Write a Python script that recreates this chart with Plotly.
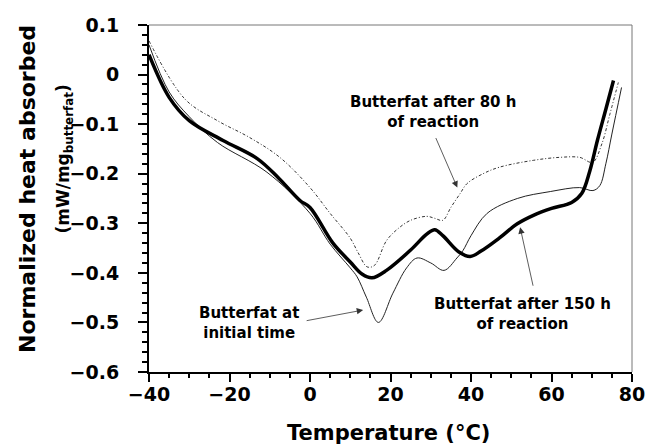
import plotly.graph_objects as go

# DSC traces of butterfat (temperature in deg C, normalized heat in mW/mg butterfat)
T_INITIAL = [-40, -35, -30, -23, -10.7, 0, 5, 10, 11.7, 14, 17, 20.6, 24, 26.6, 30, 33.3,
             36.5, 38, 40, 44, 51.5, 59.7, 67, 70.3, 72, 73.5, 75, 77.4]
Q_INITIAL = [0.06, -0.035, -0.085, -0.137, -0.197, -0.28, -0.342, -0.39, -0.408, -0.449, -0.5,
             -0.441, -0.39, -0.37, -0.38, -0.395, -0.37, -0.355, -0.325, -0.28, -0.25, -0.236,
             -0.228, -0.234, -0.224, -0.18, -0.12, -0.026]

T_80H = [-40, -31, -23, -15, -7.5, 0, 5, 10, 12, 14.2, 16, 19, 22, 25, 29, 31, 33, 35, 37.3,
         39, 43, 47, 55.5, 62, 67, 70.2, 72.5, 74.5, 76.6]
Q_80H = [0.068, -0.05, -0.093, -0.127, -0.167, -0.228, -0.28, -0.33, -0.36, -0.388, -0.385,
         -0.335, -0.31, -0.294, -0.286, -0.29, -0.294, -0.268, -0.24, -0.22, -0.2, -0.187,
         -0.173, -0.167, -0.167, -0.177, -0.14, -0.08, -0.016]

T_150H = [-40, -35, -30, -21.6, -13.2, -8, -2.5, 0, 5.7, 10, 13, 15.4, 19, 25, 29, 31, 33,
          37, 39.8, 42.5, 47, 51.5, 55.5, 60, 65, 67.5, 69.5, 71.4, 73.5, 75.4]
Q_150H = [0.04, -0.046, -0.093, -0.133, -0.169, -0.207, -0.254, -0.268, -0.34, -0.378, -0.403,
          -0.41, -0.395, -0.354, -0.322, -0.313, -0.325, -0.358, -0.367, -0.356, -0.33, -0.301,
          -0.284, -0.27, -0.258, -0.24, -0.195, -0.133, -0.07, -0.012]

TEMP_TICKS = [-40, -20, 0, 20, 40, 60, 80]
HEAT_TICKS = [0.1, 0, -0.1, -0.2, -0.3, -0.4, -0.5, -0.6]

# label text, label position, arrow tail, arrow tip
LABELS = [
    ("Butterfat after 80 h<br>of reaction", 30.6, -0.076, 31.1, -0.125, 36.6, -0.228),
    ("Butterfat at<br>initial time", -15.2, -0.502, -1.2, -0.497, 13.2, -0.475),
    ("Butterfat after 150 h<br>of reaction", 52.7, -0.482, 55.5, -0.429, 52.2, -0.308),
]

FONT = "DejaVu Sans"

fig = go.Figure()
fig.add_trace(go.Scatter(x=T_80H, y=Q_80H, mode="lines", line_shape="spline",
                         line=dict(color="#333", width=1, dash="3px,2px,1px,2px")))
fig.add_trace(go.Scatter(x=T_INITIAL, y=Q_INITIAL, mode="lines", line_shape="spline",
                         line=dict(color="#222", width=1)))
fig.add_trace(go.Scatter(x=T_150H, y=Q_150H, mode="lines", line_shape="spline",
                         line=dict(color="black", width=3.5)))

for text, tx, ty, ax, ay, x, y in LABELS:
    fig.add_annotation(x=tx, y=ty, text=text, showarrow=False,
                       font=dict(family=FONT, size=15, color="black", weight="bold"))
    fig.add_annotation(x=x, y=y, ax=ax, ay=ay, axref="x", ayref="y", text="",
                       showarrow=True, arrowhead=2, arrowsize=1.6, arrowwidth=0.8, arrowcolor="#333")

# axis titles as annotations so both y-title lines can be placed like the original
fig.add_annotation(xref="paper", yref="paper", x=0.495, y=-0.176, text="Temperature (°C)",
                   xanchor="center", yanchor="middle", showarrow=False,
                   font=dict(family=FONT, size=21, color="black", weight="bold"))
fig.add_annotation(xref="paper", yref="paper", x=-0.253, y=0.527, text="Normalized heat absorbed",
                   xanchor="center", yanchor="middle", textangle=-90, showarrow=False,
                   font=dict(family=FONT, size=22, color="black", weight="bold"))
fig.add_annotation(xref="paper", yref="paper", x=-0.174, y=0.615, text="(mW/mg<sub>butterfat</sub>)",
                   xanchor="center", yanchor="middle", textangle=-90, showarrow=False,
                   font=dict(family=FONT, size=17, color="black", weight="bold"))

# thin grey frame on top and right
fig.add_shape(type="line", xref="paper", yref="paper", x0=0, x1=1, y0=1, y1=1,
              line=dict(color="#777", width=1))
fig.add_shape(type="line", xref="paper", yref="paper", x0=1, x1=1, y0=0, y1=1,
              line=dict(color="#777", width=1))

tick_font = dict(family=FONT, size=19, color="black", weight="bold")
fig.update_xaxes(range=[-40, 80], tickvals=TEMP_TICKS, ticks="outside", ticklen=8, tickwidth=1.5,
                 tickcolor="black", minor=dict(dtick=5, tick0=-40, ticks="outside", ticklen=4, tickcolor="black"),
                 showline=True, linewidth=2, linecolor="black", showgrid=False, zeroline=False,
                 tickfont=tick_font, ticklabelstandoff=-4, automargin=False)
fig.update_yaxes(range=[-0.6, 0.1], tickvals=HEAT_TICKS, ticks="outside", ticklen=9, tickwidth=1.5,
                 tickcolor="black", minor=dict(dtick=0.02, tick0=0, ticks="outside", ticklen=5, tickcolor="black"),
                 showline=True, linewidth=2, linecolor="black", showgrid=False, zeroline=False,
                 tickfont=tick_font, ticklabelstandoff=15, automargin=False)
fig.update_layout(width=647, height=444, margin=dict(l=149, r=15, t=25, b=72, autoexpand=False),
                  plot_bgcolor="white", paper_bgcolor="white", showlegend=False)
# drop the browser's default 8px body margin so the figure fills the window
fig.write_html("out.html", config={"displayModeBar": False},
               post_script="document.body.style.margin='0';")
